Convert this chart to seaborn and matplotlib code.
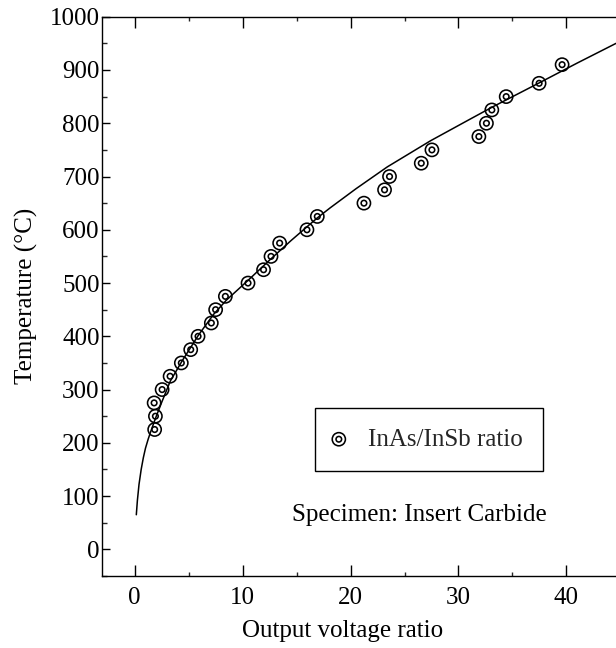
import matplotlib
matplotlib.use("Agg")
import matplotlib.pyplot as plt
import seaborn as sns
import pandas as pd
from matplotlib.ticker import MultipleLocator
from matplotlib.legend_handler import HandlerTuple

# ---- data ----
ratio_x = [1.85, 1.92, 1.80, 2.54, 3.28, 4.32, 5.19, 5.87, 7.10, 7.50, 8.40, 10.50,
           11.94, 12.63, 13.43, 15.96, 16.92, 21.24, 23.15, 23.61, 26.55, 27.54,
           31.89, 32.59, 33.09, 34.42, 37.47, 39.60]
temp_y = [225, 250, 275, 300, 325, 350, 375, 400, 425, 450, 475, 500,
          525, 550, 575, 600, 625, 650, 675, 700, 725, 750,
          775, 800, 825, 850, 875, 910]

curve_x = [0.15, 0.25, 0.4, 0.6, 0.8, 1.0, 1.25, 1.5, 2.0, 2.5, 3.3, 4.4, 5.9,
           7.3, 8.5, 10.5, 12.6, 14.5, 16.9, 18.1, 20.5, 23.4, 27.4, 31.1,
           33.1, 37.5, 41.0, 44.6]
curve_y = [65, 92, 122, 150, 172, 190, 207, 222, 250, 276, 316, 354, 402,
           441, 468, 505, 545, 580, 622, 641, 677, 718, 767, 808,
           830, 876, 913, 950]

x_ticks = [0, 10, 20, 30, 40]
y_ticks = [0, 100, 200, 300, 400, 500, 600, 700, 800, 900, 1000]

legend_label = "InAs/InSb ratio"
note_text = "Specimen: Insert Carbide"

pts = pd.DataFrame({"x": ratio_x, "y": temp_y})
crv = pd.DataFrame({"x": curve_x, "y": curve_y})

sns.set_theme(style="white")
plt.rcParams["font.family"] = ["Liberation Serif", "DejaVu Serif"]

FS = 18

fig = plt.figure(figsize=(6.16, 6.48), dpi=100)
ax = fig.add_axes([0.1661, 0.1111, 0.841, 0.8631])

sns.lineplot(data=crv, x="x", y="y", ax=ax, color="black", linewidth=1.1,
             sort=False, estimator=None)
outer = ax.scatter(pts["x"], pts["y"], s=90, facecolors="none",
                   edgecolors="black", linewidths=1.15, zorder=3)
inner = ax.scatter(pts["x"], pts["y"], s=16, facecolors="none",
                   edgecolors="black", linewidths=1.15, zorder=4)

ax.set_xlim(-3, 45)
ax.set_ylim(-50, 1000)
ax.set_xticks(x_ticks)
ax.set_yticks(y_ticks)
ax.xaxis.set_minor_locator(MultipleLocator(5))
ax.yaxis.set_minor_locator(MultipleLocator(50))

ax.tick_params(axis="x", which="major", direction="in", length=8, width=1.0,
               top=True, bottom=True, labelsize=FS, pad=8, colors="black")
ax.tick_params(axis="x", which="minor", direction="in", length=3, width=1.0,
               top=True, bottom=True)
ax.tick_params(axis="y", which="major", direction="in", length=6, width=1.0,
               left=True, right=False, labelsize=FS, pad=2, colors="black")
ax.tick_params(axis="y", which="minor", direction="in", length=3.5, width=1.0,
               left=True, right=False)

for side in ["left", "bottom", "top", "right"]:
    ax.spines[side].set_visible(True)
    ax.spines[side].set_color("black")
    ax.spines[side].set_linewidth(1.0)

ax.set_xlabel("Output voltage ratio", fontsize=FS, color="black", labelpad=8)
ax.xaxis.label.set_x(0.464)
ax.set_ylabel("Temperature (°C)", fontsize=FS, color="black", labelpad=8)
ax.grid(False)

leg = ax.legend(handles=[(outer, inner)], labels=[legend_label],
                handler_map={tuple: HandlerTuple(ndivide=1)},
                loc="center", bbox_to_anchor=(0.630, 0.244),
                fontsize=FS, frameon=True, fancybox=False,
                borderpad=0.82, handletextpad=1.0, handlelength=0.3,
                borderaxespad=0)
leg.get_frame().set_edgecolor("black")
leg.get_frame().set_linewidth(1.0)
leg.get_frame().set_alpha(1)

ax.text(26.4, 65, note_text, fontsize=FS, ha="center", va="center", color="black")

fig.savefig("out.png", dpi=100)
